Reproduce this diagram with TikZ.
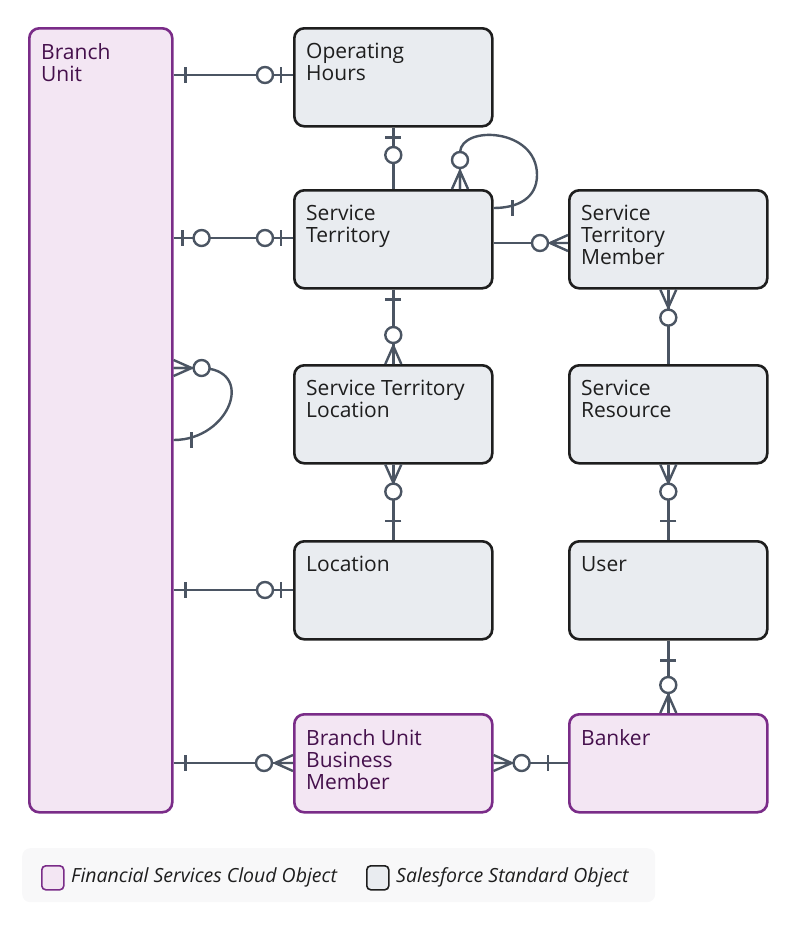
\documentclass[tikz,border=0pt]{standalone}
\usepackage{fontspec}
\setmainfont{Open Sans}
\usetikzlibrary{positioning}
\definecolor{fscfill}{HTML}{F3E6F3}
\definecolor{fscline}{HTML}{7A2C88}
\definecolor{fsctext}{HTML}{45104C}
\definecolor{stdfill}{HTML}{E9ECF0}
\definecolor{stdline}{HTML}{1E1E1E}
\definecolor{conncol}{HTML}{4B5563}
\definecolor{legfill}{HTML}{F8F8F9}
\begin{document}
\begin{tikzpicture}[x=1pt, y=-1pt,
  std/.style={draw=stdline, fill=stdfill, line width=2.6pt, rounded corners=10pt, minimum width=198pt, minimum height=98pt, anchor=north west, inner sep=0pt},
  fsc/.style={std, draw=fscline, fill=fscfill},
  lbl/.style={anchor=north west, inner sep=0pt, align=left, text=stdline, font=\fontsize{21}{22}\selectfont},
  flbl/.style={lbl, text=fsctext},
  conn/.style={draw=conncol, line width=2.4pt},
  pics/bar/.style={code={\draw[conn] (#1,-8)--(#1,8);}},
  pics/zc/.style={code={\draw[conn, fill=white] (#1,0) circle (8);}},
  pics/crow/.style={code={\draw[conn] (-18,0)--(0,8) (-18,0)--(0,-8) (-18,0)--(0,0);}}]

\useasboundingbox (0,0) rectangle (800,927);

%%%%%%%%%%%%%%%%%%%%%%%%%%%%%%%%%%%%%%%%%%%%%%%%%%%%%%%%%%%%%%%%
% Objects
%%%%%%%%%%%%%%%%%%%%%%%%%%%%%%%%%%%%%%%%%%%%%%%%%%%%%%%%%%%%%%%%

% Branch unit
\node [fsc, minimum width=143pt, minimum height=784pt] (bu) at (28,27) {};
    \node [flbl] (buT) at (41,43) {Branch\\Unit};

% Left column
\node [std] (oh) at (293,27) {};
    \node [lbl] (ohT) at (306,43) {Operating\\Hours};
\node [std] (st) at (293,189) {};
    \node [lbl] (stT) at (306,205) {Service\\Territory};
\node [std] (stl) at (293,364) {};
    \node [lbl] (stlT) at (306,380) {Service Territory\\Location};
\node [std] (loc) at (293,540) {};
    \node [lbl] (locT) at (306,556) {Location};
\node [fsc] (bubm) at (293,713) {};
    \node [flbl] (bubmT) at (306,729) {Branch Unit\\Business\\Member};

% Right column
\node [std] (stm) at (568,189) {};
    \node [lbl] (stmT) at (581,205) {Service\\Territory\\Member};
\node [std] (sr) at (568,364) {};
    \node [lbl] (srT) at (581,380) {Service\\Resource};
\node [std] (usr) at (568,540) {};
    \node [lbl] (usrT) at (581,556) {User};
\node [fsc] (bnk) at (568,713) {};
    \node [flbl] (bnkT) at (581,729) {Banker};

%%%%%%%%%%%%%%%%%%%%%%%%%%%%%%%%%%%%%%%%%%%%%%%%%%%%%%%%%%%%%%%%
% Edges
%%%%%%%%%%%%%%%%%%%%%%%%%%%%%%%%%%%%%%%%%%%%%%%%%%%%%%%%%%%%%%%%

% Branch unit to the left column
\draw [conn] (bu.east |- 0,75) to (oh.west |- 0,75);
    \pic at (bu.east |- 0,75) {bar=12};
    \pic at (oh.west |- 0,75) {zc=-28};
    \pic at (oh.west |- 0,75) {bar=-12};
\draw [conn] (bu.east |- 0,238) to (st.west |- 0,238);
    \pic at (bu.east |- 0,238) {bar=9};
    \pic at (bu.east |- 0,238) {zc=28};
    \pic at (st.west |- 0,238) {zc=-28};
    \pic at (st.west |- 0,238) {bar=-12};
\draw [conn] (bu.east |- 0,590) to (loc.west |- 0,590);
    \pic at (bu.east |- 0,590) {bar=12};
    \pic at (loc.west |- 0,590) {zc=-28};
    \pic at (loc.west |- 0,590) {bar=-12};
\draw [conn] (bu.east |- 0,763) to (bubm.west |- 0,763);
    \pic at (bu.east |- 0,763) {bar=12};
    \pic at (bubm.west |- 0,763) {zc=-29};
    \pic at (bubm.west |- 0,763) {crow};

% Branch unit self loop
\draw [conn] (bu.east |- 0,368) to (200,368) to[out=0, in=0, looseness=1.9] (bu.east |- 0,440);
    \pic [rotate=180] at (bu.east |- 0,368) {crow};
    \pic [rotate=180] at (bu.east |- 0,368) {zc=-28};
    \pic at (bu.east |- 0,440) {bar=18};

% Vertical links, left column
\draw [conn] (oh.south) to (st.north);
    \pic [rotate=90] at (oh.south) {bar=-10};
    \pic [rotate=-90] at (st.north) {zc=-34};
\draw [conn] (st.south) to (stl.north);
    \pic [rotate=90] at (st.south) {bar=-10};
    \pic [rotate=-90] at (stl.north) {zc=-29};
    \pic [rotate=-90] at (stl.north) {crow};
\draw [conn] (stl.south) to (loc.north);
    \pic [rotate=90] at (stl.south) {crow};
    \pic [rotate=90] at (stl.south) {zc=-27};
    \pic [rotate=-90] at (loc.north) {bar=-19};

% Service territory self loop
\coordinate (stTop) at (st.north -| 460,0);
\draw [conn] (stTop) to (460,152) .. controls (462,125) and (537,128) .. (537,175)
    .. controls (537,198) and (518,208) .. (st.east |- 0,208);
    \pic [rotate=-90] at (stTop) {crow};
    \pic [rotate=-90] at (stTop) {zc=-29};
    \pic at (st.east |- 0,208) {bar=19};

% Service territory to member
\draw [conn] (st.east |- 0,243) to (stm.west |- 0,243);
    \pic at (stm.west |- 0,243) {crow};
    \pic at (stm.west |- 0,243) {zc=-28};

% Vertical links, right column
\draw [conn] (stm.south) to (sr.north);
    \pic [rotate=90] at (stm.south) {crow};
    \pic [rotate=90] at (stm.south) {zc=-28};
\draw [conn] (sr.south) to (usr.north);
    \pic [rotate=90] at (sr.south) {crow};
    \pic [rotate=90] at (sr.south) {zc=-27};
    \pic [rotate=-90] at (usr.north) {bar=-19};
\draw [conn] (usr.south) to (bnk.north);
    \pic [rotate=90] at (usr.south) {bar=-20};
    \pic [rotate=-90] at (bnk.north) {zc=-28};
    \pic [rotate=-90] at (bnk.north) {crow};

% Business member to banker
\draw [conn] (bubm.east |- 0,763) to (bnk.west |- 0,763);
    \pic [rotate=180] at (bubm.east |- 0,763) {crow};
    \pic [rotate=180] at (bubm.east |- 0,763) {zc=-28};
    \pic at (bnk.west |- 0,763) {bar=-20};

%%%%%%%%%%%%%%%%%%%%%%%%%%%%%%%%%%%%%%%%%%%%%%%%%%%%%%%%%%%%%%%%
% Legend
%%%%%%%%%%%%%%%%%%%%%%%%%%%%%%%%%%%%%%%%%%%%%%%%%%%%%%%%%%%%%%%%
\node [fill=legfill, rounded corners=8pt, minimum width=633pt, minimum height=54pt, anchor=north west] (leg) at (22,848) {};
\node [fsc, line width=1.6pt, rounded corners=4pt, minimum width=22pt, minimum height=24pt] (legF) at (41,865) {};
\node [anchor=west, inner sep=0pt, text=stdline, font=\fontsize{19.5}{20}\selectfont\itshape] (legFT) at (71,877) {Financial Services Cloud Object};
\node [std, line width=1.6pt, rounded corners=4pt, minimum width=22pt, minimum height=24pt] (legS) at (366,865) {};
\node [anchor=west, inner sep=0pt, text=stdline, font=\fontsize{19.5}{20}\selectfont\itshape] (legST) at (396,877) {Salesforce Standard Object};
\end{tikzpicture}
\end{document}
